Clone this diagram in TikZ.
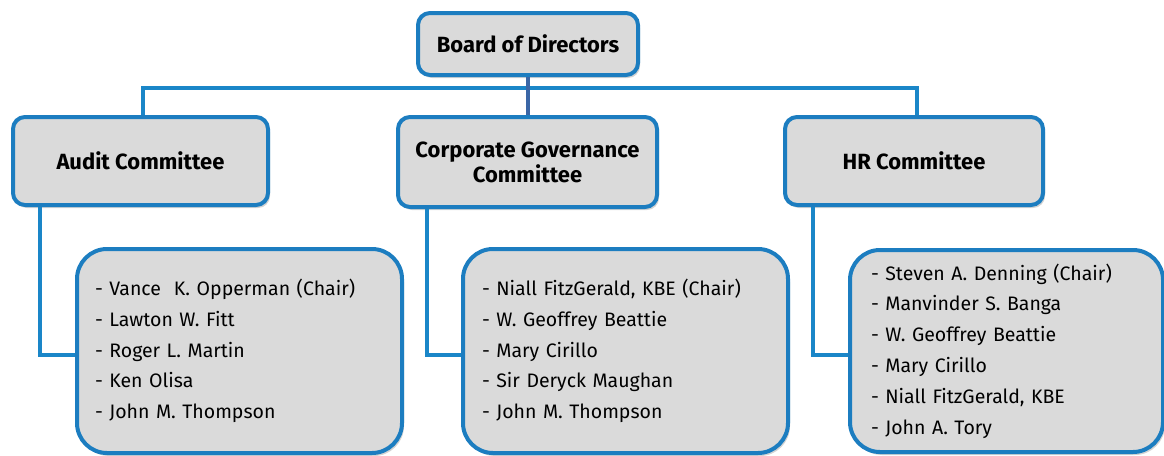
\documentclass[tikz,border=0pt]{standalone}
\usepackage{fontspec}
\setmainfont{Fira Sans}
\usetikzlibrary{shadows}
\definecolor{boxblue}{HTML}{1C7DC0}
\definecolor{linkblue}{HTML}{1A86C8}
\definecolor{stemblue}{HTML}{3A66A6}
\definecolor{boxgray}{HTML}{DADADA}

\begin{document}
\begin{tikzpicture}[x=1pt, y=-1pt,
    headbox/.style={draw=boxblue, line width=4pt, fill=boxgray, rounded corners=12pt,
        align=center, font=\fontsize{22}{25}\selectfont\bfseries,
        drop shadow={opacity=0.35, shadow xshift=2pt, shadow yshift=-3pt}},
    namebox/.style={draw=boxblue, line width=4pt, fill=boxgray, rounded corners=30pt,
        align=left, inner xsep=18pt, anchor=center,
        font=\fontsize{19.5}{30.8}\selectfont,
        drop shadow={opacity=0.35, shadow xshift=2pt, shadow yshift=-3pt}},
    link/.style={draw=linkblue, line width=4pt}]
    \useasboundingbox (0,0) rectangle (1164,455);
    %%%%% BOXES %%%%%
    \node[headbox, minimum width=220pt, minimum height=62pt] (board) at (528,44) {Board of Directors};

    \node[headbox, minimum width=255pt, minimum height=88pt] (audit) at (140.5,161) {Audit Committee};
    \node[headbox, minimum width=259pt, minimum height=90pt] (corp) at (527.5,162) {Corporate Governance\\Committee};
    \node[headbox, minimum width=258pt, minimum height=88pt] (hr) at (914,161) {HR Committee};

    \node[namebox, minimum width=325pt, minimum height=204pt, text width=289pt] (auditm) at (239.5,351)
        {- Vance\ \ K. Opperman (Chair)\\- Lawton W. Fitt\\- Roger L. Martin\\- Ken Olisa\\- John M. Thompson};
    \node[namebox, minimum width=325pt, minimum height=204pt, text width=287pt] (corpm) at (625.5,351)
        {- Niall FitzGerald, KBE (Chair)\\- W. Geoffrey Beattie\\- Mary Cirillo\\- Sir Deryck Maughan\\- John M. Thompson};
    \node[namebox, minimum width=313pt, minimum height=202pt, text width=271pt, inner xsep=21pt] (hrm) at (1006.5,351)
        {- Steven A. Denning (Chair)\\- Manvinder S. Banga\\- W. Geoffrey Beattie\\- Mary Cirillo\\- Niall FitzGerald, KBE\\- John A. Tory};

    %%%%% LINKS %%%%%
    \coordinate (bus) at (528,88);
    \draw[link] ([xshift=2.5pt]audit.north) |- (bus) -| ([xshift=3pt]hr.north);
    \draw[link, draw=stemblue] (board.south) -- (board.south |- corp.north);

    \draw[link] ([xshift=29pt]audit.south west) |- ([yshift=-4pt]auditm.west);
    \draw[link] ([xshift=31pt]corp.south west) |- ([yshift=-4pt]corpm.west);
    \draw[link] ([xshift=30pt]hr.south west) |- ([yshift=-4pt]hrm.west);
\end{tikzpicture}
\end{document}
